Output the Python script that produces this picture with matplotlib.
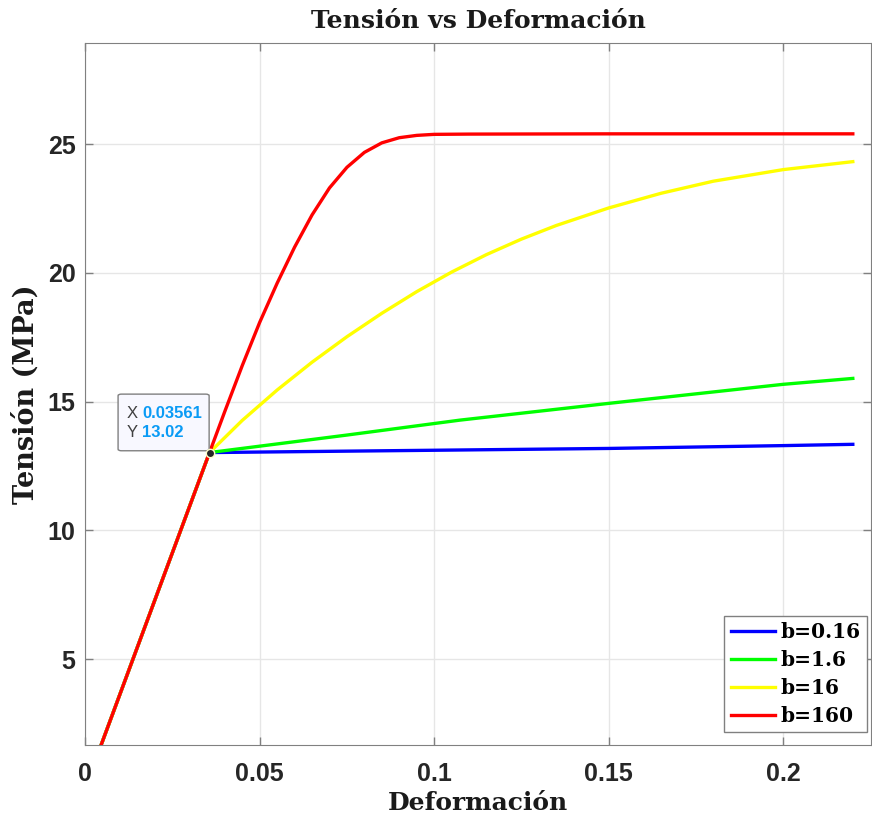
import numpy as np
import matplotlib.pyplot as plt
from matplotlib.patches import FancyBboxPatch

# elastic part (shared by all curves)
eps_el = [0.0, 0.03561]
sig_el = [0.0, 13.02]

# b = 0.16
eps_b1 = [0.03561, 0.1074, 0.15, 0.20, 0.22]
sig_b1 = [13.02, 13.12, 13.18, 13.29, 13.34]

# b = 1.6
eps_b2 = [0.03561, 0.075, 0.1074, 0.15, 0.20, 0.22]
sig_b2 = [13.02, 13.70, 14.28, 14.93, 15.67, 15.90]

# b = 16
eps_b3 = [0.03561, 0.045, 0.055, 0.065, 0.075, 0.085, 0.095, 0.105, 0.115,
          0.125, 0.135, 0.150, 0.165, 0.180, 0.200, 0.220]
sig_b3 = [13.02, 14.27, 15.45, 16.53, 17.52, 18.43, 19.27, 20.03, 20.71,
          21.31, 21.84, 22.52, 23.09, 23.56, 24.01, 24.32]

# b = 160
eps_b4 = [0.03561, 0.040, 0.045, 0.050, 0.055, 0.060, 0.065, 0.070, 0.075,
          0.080, 0.085, 0.090, 0.095, 0.100, 0.110, 0.150, 0.220]
sig_b4 = [13.02, 14.62, 16.40, 18.08, 19.60, 21.00, 22.25, 23.30, 24.10,
          24.68, 25.05, 25.25, 25.34, 25.38, 25.39, 25.40, 25.40]

labels = ['b=0.16', 'b=1.6', 'b=16', 'b=160']
colors = ['#0000ff', '#00ff00', '#ffff00', '#ff0000']

fig = plt.figure(figsize=(8.72, 8.17), dpi=100)
ax = fig.add_axes([0.0978, 0.0881, 0.901, 0.859])

all_eps = [eps_b1, eps_b2, eps_b3, eps_b4]
all_sig = [sig_b1, sig_b2, sig_b3, sig_b4]
for e, s, lab, c in zip(all_eps, all_sig, labels, colors):
    ax.plot(eps_el + e[1:], sig_el + s[1:], color=c, lw=2.4, label=lab)

# datatip
ax.plot(eps_el[1], sig_el[1], 'o', color='#262626', mec='#ffffcc', ms=6, mew=1, zorder=5)
ax.text(0.0118, 14.55, 'X', fontsize=12, color='#404040', fontfamily='Liberation Sans',
        va='center', zorder=6)
ax.text(0.0163, 14.55, '0.03561', fontsize=12, color='#0a9bf5', fontweight='bold',
        fontfamily='Liberation Sans', va='center', zorder=6)
ax.text(0.0118, 13.78, 'Y', fontsize=12, color='#404040', fontfamily='Liberation Sans',
        va='center', zorder=6)
ax.text(0.0163, 13.78, '13.02', fontsize=12, color='#0a9bf5', fontweight='bold',
        fontfamily='Liberation Sans', va='center', zorder=6)
box = FancyBboxPatch((0.0094, 13.09), 0.0261, 2.2, boxstyle='round,pad=0,rounding_size=0.001',
                     fc='#f8f8ff', ec='#808080', lw=1, zorder=4, mutation_aspect=60)
ax.add_patch(box)

ax.set_xlim(0, 0.2252)
ax.set_ylim(1.66, 28.92)
ax.set_xticks([0, 0.05, 0.1, 0.15, 0.2])
ax.set_xticklabels(['0', '0.05', '0.1', '0.15', '0.2'])
ax.set_yticks([5, 10, 15, 20, 25])
ax.grid(True, color='#e6e6e6', lw=1)
ax.set_axisbelow(True)
for sp in ax.spines.values():
    sp.set_color('#808080')
ax.tick_params(direction='in', length=6, width=1, color='#808080', top=True, right=True,
               labelsize=18, labelcolor='#262626')
ax.tick_params(axis='x', pad=12)
ax.tick_params(axis='y', pad=7)
for t in ax.get_xticklabels() + ax.get_yticklabels():
    t.set_fontfamily('Liberation Sans')
    t.set_fontweight('bold')

serif = {'family': 'DejaVu Serif', 'weight': 'bold', 'size': 18, 'color': '#1a1a1a'}
ax.set_title('Tensión vs Deformación', fontdict=serif, pad=11)
ax.set_xlabel('Deformación', fontdict=serif, labelpad=4)
ax.set_ylabel('Tensión (MPa)', fontdict=dict(serif, size=19.5), labelpad=6)

leg = ax.legend(loc='lower right', bbox_to_anchor=(0.995, 0.0185), borderaxespad=0,
                prop={'family': 'DejaVu Serif', 'weight': 'bold', 'size': 14.5},
                handlelength=2.2, handletextpad=0.3, labelspacing=0.4, borderpad=0.3,
                fancybox=False, framealpha=1, edgecolor='#808080')
leg.get_frame().set_linewidth(1)

fig.savefig('out.png', dpi=100)
